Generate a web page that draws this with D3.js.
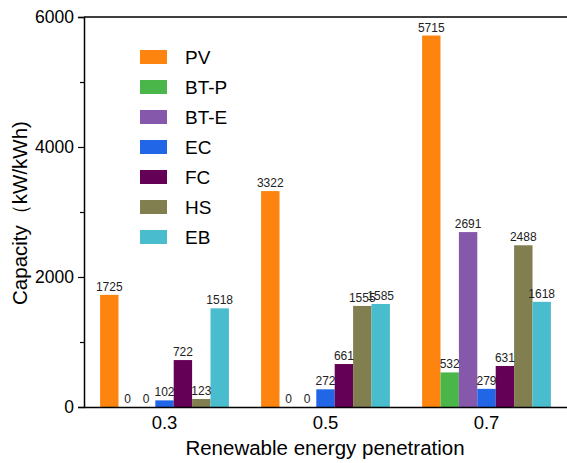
<!DOCTYPE html>
<html>
<head>
<meta charset="utf-8">
<script src="https://cdn.jsdelivr.net/npm/d3@7"></script>
<style>
body{margin:0;background:#fff;}
text{font-family:Arial,"Liberation Sans",sans-serif;}
</style>
</head>
<body>
<svg id="chart" width="567" height="463"></svg>
<script>
var categories = ["0.3", "0.5", "0.7"];
var seriesNames = ["PV", "BT-P", "BT-E", "EC", "FC", "HS", "EB"];
var seriesColors = ["#fd840f", "#4ab64a", "#8558ac", "#2066e6", "#640056", "#817f50", "#49bccd"];
var PV   = [1725, 3322, 5715];
var BTP  = [0, 0, 532];
var BTE  = [0, 0, 2691];
var EC   = [102, 272, 279];
var FC   = [722, 661, 631];
var HS   = [123, 1555, 2488];
var EB   = [1518, 1585, 1618];
var yTicks = [0, 2000, 4000, 6000];

var seriesValues = [PV, BTP, BTE, EC, FC, HS, EB];

var svg = d3.select("#chart"),
    margin = {left:84, right:0, top:17, bottom:56},
    W = 567, H = 463;

var x0 = d3.scaleBand()
    .domain(categories)
    .range([margin.left, W - margin.right])
    .paddingInner(0.2)
    .paddingOuter(0.1);

var x1 = d3.scaleBand()
    .domain(seriesNames)
    .range([0, x0.bandwidth()]);

var y = d3.scaleLinear()
    .domain([0, 6000])
    .range([H - margin.bottom, margin.top]);

var data = [];
categories.forEach(function(c, i){
    seriesNames.forEach(function(s, j){
        data.push({cat:c, name:s, value:seriesValues[j][i], color:seriesColors[j]});
    });
});

// bars
svg.append("g").selectAll("rect")
    .data(data)
    .enter()
    .append("rect")
    .attr("x", function(d){ return x0(d.cat) + x1(d.name); })
    .attr("y", function(d){ return y(d.value); })
    .attr("width", x1.bandwidth())
    .attr("height", function(d){ return y(0) - y(d.value); })
    .attr("fill", function(d){ return d.color; });

// value labels
svg.append("g").selectAll("text")
    .data(data)
    .enter()
    .append("text")
    .attr("x", function(d){ return x0(d.cat) + x1(d.name) + x1.bandwidth()/2; })
    .attr("y", function(d){ return y(d.value) - 4; })
    .attr("text-anchor", "middle")
    .attr("font-size", "12px")
    .attr("fill", "#222")
    .text(function(d){ return d.value; });

// y axis
var yAxis = d3.axisLeft(y)
    .tickValues(d3.range(0, 6001, 1000))
    .tickSize(6)
    .tickFormat(function(d){ return yTicks.indexOf(d) >= 0 ? d : ""; });

var gy = svg.append("g")
    .attr("transform", "translate(" + margin.left + ",0)")
    .call(yAxis);
gy.select(".domain").attr("stroke", "#000").attr("stroke-width", 1.5);
gy.selectAll(".tick line").attr("stroke", "#000").attr("stroke-width", 1.2)
    .attr("x2", function(d){ return yTicks.indexOf(d) >= 0 ? -6 : -4; });
gy.selectAll(".tick text")
    .attr("font-size", "17.5px")
    .attr("font-family", "Arial, 'Liberation Sans', sans-serif")
    .attr("fill", "#000")
    .attr("x", -10);

// x axis
var gx = svg.append("g")
    .attr("transform", "translate(0," + y(0) + ")")
    .call(d3.axisBottom(x0).tickSize(0).tickPadding(9));
gx.select(".domain").attr("stroke", "#000").attr("stroke-width", 1.5);
gx.selectAll(".tick text")
    .attr("font-size", "18.5px")
    .attr("font-family", "Arial, 'Liberation Sans', sans-serif")
    .attr("fill", "#000");

// top frame line
svg.append("line")
    .attr("x1", margin.left).attr("x2", W)
    .attr("y1", y(6000)).attr("y2", y(6000))
    .attr("stroke", "#000").attr("stroke-width", 1.5);

// axis titles
svg.append("text")
    .attr("x", 325)
    .attr("y", 455)
    .attr("text-anchor", "middle")
    .attr("font-size", "20.5px")
    .text("Renewable energy penetration");

svg.append("text")
    .attr("transform", "translate(27,213) rotate(-90)")
    .attr("text-anchor", "middle")
    .attr("font-size", "20.5px")
    .text("Capacity（kW/kWh)");

// legend
var legend = svg.append("g").selectAll("g")
    .data(seriesNames)
    .enter()
    .append("g")
    .attr("transform", function(d, i){ return "translate(140," + (50 + i*30) + ")"; });

legend.append("rect")
    .attr("width", 27)
    .attr("height", 14)
    .attr("fill", function(d, i){ return seriesColors[i]; });

legend.append("text")
    .attr("x", 45)
    .attr("y", 14)
    .attr("font-size", "19px")
    .text(function(d){ return d; });
</script>
</body>
</html>
